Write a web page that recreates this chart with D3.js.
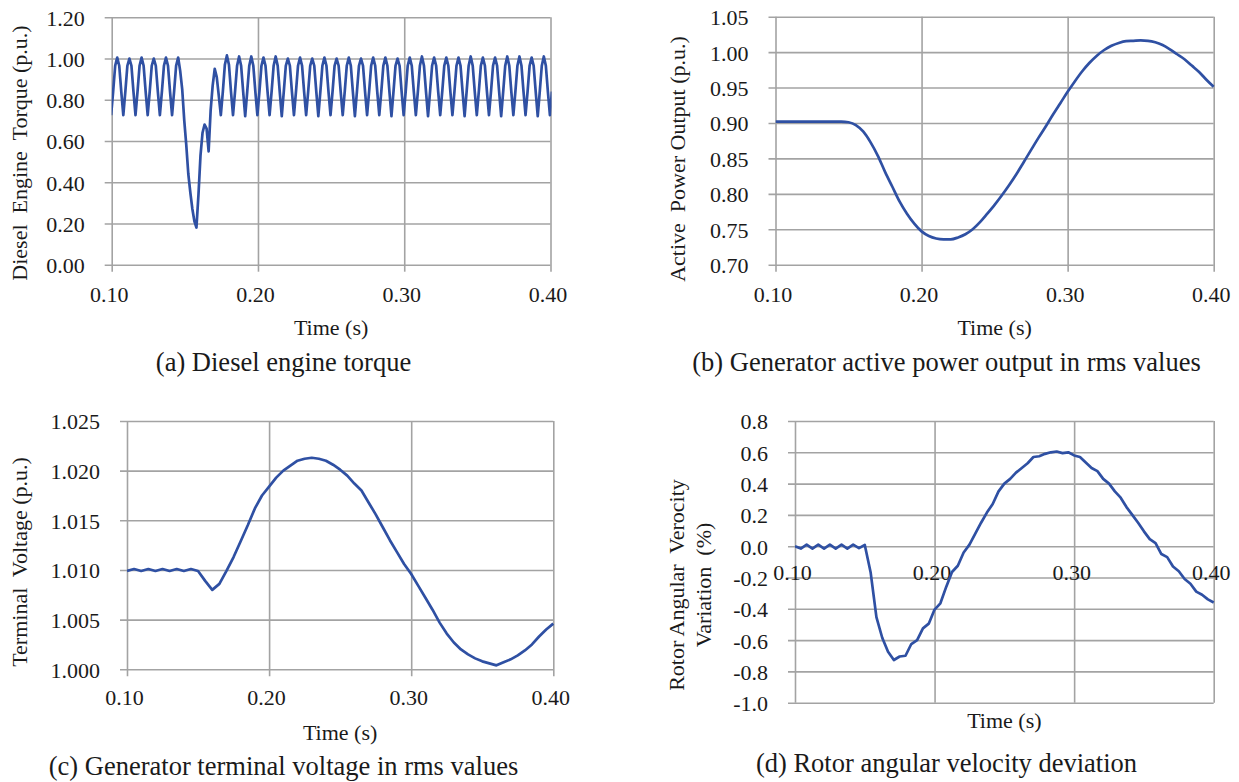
<!DOCTYPE html>
<html>
<head>
<meta charset="utf-8">
<script src="https://cdn.jsdelivr.net/npm/d3@7"></script>
<style>
  body { margin: 0; background: #fff; }
  svg text { font-family: "Liberation Serif", "Times New Roman", serif; fill: #1a1a1a; white-space: pre; }
</style>
</head>
<body>
<svg id="chart" width="1239" height="782"></svg>
<script>
// ---- data ----
const timeTicks = [0.10, 0.20, 0.30, 0.40];

// (a) diesel engine torque, sampled every 1/720 s from 0.0996 s
const torqueStart = 0.0996;
const torqueStep = 1 / 720;
const torqueValues = [
  0.725, 0.84, 0.965, 1.005, 0.965, 0.84,
  0.725, 0.84, 0.965, 1.000, 0.965, 0.84,
  0.725, 0.84, 0.965, 1.005, 0.965, 0.84,
  0.725, 0.84, 0.965, 1.000, 0.965, 0.84,
  0.725, 0.84, 0.965, 1.005, 0.965, 0.84,
  0.725, 0.84, 0.965, 1.005, 0.940, 0.85,
  0.700, 0.58, 0.440, 0.350, 0.270, 0.21,
  0.180, 0.34, 0.530, 0.640, 0.680, 0.66,
  0.550, 0.75, 0.870, 0.950, 0.910, 0.82,
  0.725, 0.84, 0.970, 1.015, 0.970, 0.84,
  0.725, 0.84, 0.965, 1.010, 0.965, 0.84,
  0.720, 0.84, 0.965, 1.010, 0.965, 0.84,
  0.725, 0.84, 0.965, 1.005, 0.965, 0.84,
  0.725, 0.84, 0.965, 1.010, 0.965, 0.84,
  0.720, 0.84, 0.965, 1.000, 0.965, 0.84,
  0.725, 0.84, 0.965, 1.005, 0.965, 0.84,
  0.725, 0.84, 0.965, 1.000, 0.965, 0.84,
  0.720, 0.84, 0.965, 1.005, 0.965, 0.84,
  0.725, 0.84, 0.965, 1.000, 0.965, 0.84,
  0.725, 0.84, 0.965, 1.005, 0.965, 0.84,
  0.720, 0.84, 0.965, 1.000, 0.965, 0.84,
  0.725, 0.84, 0.965, 1.005, 0.965, 0.84,
  0.725, 0.84, 0.965, 1.005, 0.965, 0.84,
  0.720, 0.84, 0.965, 1.000, 0.965, 0.84,
  0.725, 0.84, 0.965, 1.005, 0.965, 0.84,
  0.725, 0.84, 0.965, 1.010, 0.965, 0.84,
  0.720, 0.84, 0.965, 1.005, 0.965, 0.84,
  0.725, 0.84, 0.965, 1.005, 0.965, 0.84,
  0.725, 0.84, 0.965, 1.005, 0.965, 0.84,
  0.720, 0.84, 0.965, 1.010, 0.965, 0.84,
  0.725, 0.84, 0.965, 1.005, 0.965, 0.84,
  0.725, 0.84, 0.965, 1.005, 0.965, 0.84,
  0.720, 0.84, 0.965, 1.010, 0.965, 0.84,
  0.725, 0.84, 0.965, 1.010, 0.965, 0.84,
  0.725, 0.84, 0.965, 1.005, 0.965, 0.84,
  0.720, 0.84, 0.965, 1.010, 0.965, 0.84,
  0.725, 0.84
];
const torqueTicks = [0, 0.2, 0.4, 0.6, 0.8, 1.0, 1.2];

// (b) active power output, every 5 ms from 0.10 s
const powerStart = 0.10;
const powerStep = 0.005;
const powerValues = [
  0.902, 0.902, 0.902, 0.902, 0.902, 0.902, 0.902, 0.902, 0.902, 0.902,
  0.901, 0.897, 0.888, 0.873, 0.854, 0.831, 0.810, 0.789, 0.772, 0.758,
  0.747, 0.7405, 0.737, 0.7358, 0.7358, 0.7385, 0.743, 0.750, 0.760, 0.772,
  0.7845, 0.798, 0.8125, 0.828, 0.845, 0.862, 0.879, 0.895, 0.912, 0.928,
  0.944, 0.959, 0.973, 0.985, 0.995, 1.003, 1.009, 1.013, 1.0155, 1.016,
  1.0165, 1.016, 1.014, 1.010, 1.004, 0.997, 0.990, 0.981, 0.972, 0.961,
  0.951
];
const powerTicks = [0.70, 0.75, 0.80, 0.85, 0.90, 0.95, 1.00, 1.05];

// (c) terminal voltage, every 5 ms from 0.10 s
const voltStart = 0.10;
const voltStep = 0.005;
const voltValues = [
  1.0099, 1.0101, 1.0099, 1.0101, 1.0099, 1.0101, 1.0099, 1.0101, 1.0099, 1.0101,
  1.0099, 1.0089, 1.0080, 1.0086, 1.0099, 1.0113, 1.0129, 1.0145, 1.0162, 1.0175,
  1.0184, 1.0193, 1.0200, 1.0205, 1.0210, 1.0212, 1.0213, 1.0212, 1.0210, 1.0206,
  1.0201, 1.0195, 1.0187, 1.0180, 1.0168, 1.0156, 1.0143, 1.0130, 1.0118, 1.0106,
  1.0096, 1.0084, 1.0072, 1.0060, 1.0047, 1.0036, 1.0027, 1.0020, 1.0015, 1.0011,
  1.0008, 1.0006, 1.0004, 1.0007, 1.0010, 1.0014, 1.0019, 1.0025, 1.0033, 1.0040,
  1.0046
];
const voltTicks = [1.000, 1.005, 1.010, 1.015, 1.020, 1.025];

// (d) rotor angular velocity deviation (%), every 1/240 s from 0.10 s
const speedStart = 0.10;
const speedStep = 1 / 240;
const speedValues = [
  0.000, -0.015, 0.010, -0.015, 0.010, -0.015, 0.010, -0.015, 0.010, -0.015,
  0.010, -0.012, 0.008, -0.166, -0.453, -0.585, -0.675, -0.727, -0.705, -0.700,
  -0.625, -0.600, -0.525, -0.495, -0.405, -0.365, -0.260, -0.165, -0.125, -0.040,
  0.010, 0.080, 0.150, 0.215, 0.270, 0.350, 0.400, 0.430, 0.470, 0.500,
  0.530, 0.570, 0.575, 0.590, 0.600, 0.605, 0.595, 0.600, 0.580, 0.570,
  0.535, 0.500, 0.480, 0.430, 0.400, 0.350, 0.310, 0.250, 0.200, 0.150,
  0.095, 0.045, 0.020, -0.050, -0.070, -0.130, -0.160, -0.210, -0.240, -0.290,
  -0.310, -0.340, -0.360
];
const speedTicks = [-1.0, -0.8, -0.6, -0.4, -0.2, 0.0, 0.2, 0.4, 0.6, 0.8];

// ---- drawing ----
const svg = d3.select('#chart');
const gridColor = '#a3a3a3';
const lineColor = '#2f50a3';

function drawPanel(o) {
  const x = d3.scaleLinear().domain([0.10, 0.40]).range([o.left, o.right]);
  const y = d3.scaleLinear().domain(o.yDomain).range([o.bottom, o.top]);
  const w = o.right - o.left, h = o.bottom - o.top;
  const g = svg.append('g');

  // horizontal grid + y labels
  const ya = g.append('g')
    .attr('transform', `translate(${o.left},0)`)
    .call(d3.axisLeft(y).tickValues(o.yTicks).tickFormat(o.yFormat)
      .tickSize(-w).tickSizeOuter(0).tickPadding(27));
  ya.select('.domain').remove();
  ya.selectAll('line').attr('x1', -7).attr('stroke', gridColor).attr('stroke-width', 1.6);
  ya.selectAll('text').attr('font-size', 22).attr('dy', '0.36em');
  ya.attr('font-family', null).attr('font-size', null);

  // vertical grid
  const xg = g.append('g')
    .attr('transform', `translate(0,${o.bottom})`)
    .call(d3.axisBottom(x).tickValues(timeTicks).tickFormat('').tickSize(-h).tickSizeOuter(0));
  xg.select('.domain').remove();
  xg.selectAll('line').attr('y1', o.tickOut).attr('stroke', gridColor).attr('stroke-width', 1.6);

  // x labels
  const xl = g.append('g')
    .attr('transform', `translate(0,${o.labelY})`)
    .call(d3.axisBottom(x).tickValues(timeTicks).tickFormat(d3.format('.2f')).tickSize(0).tickPadding(0));
  xl.select('.domain').remove();
  xl.attr('font-family', null).attr('font-size', null);
  xl.selectAll('text').attr('font-size', 22).attr('dy', 0).attr('dx', -3);

  // series
  const clipId = 'clip' + o.id;
  svg.append('clipPath').attr('id', clipId).append('rect')
    .attr('x', o.left).attr('y', o.top - 4).attr('width', w + 1).attr('height', h + 8);
  const line = d3.line()
    .x((d, i) => x(o.start + i * o.step))
    .y(d => y(d))
    .curve(o.curve || d3.curveLinear);
  g.append('path')
    .datum(o.values)
    .attr('clip-path', `url(#${clipId})`)
    .attr('fill', 'none')
    .attr('stroke', lineColor)
    .attr('stroke-width', 2.7)
    .attr('stroke-linejoin', 'round')
    .attr('d', line);

  // y title
  o.yTitle.forEach((t, k) => {
    g.append('text')
      .attr('transform', `translate(${o.yTitleX[k]},${o.yTitleY}) rotate(-90)`)
      .attr('text-anchor', 'middle')
      .attr('font-size', 22)
      .text(t);
  });
  // x title
  g.append('text')
    .attr('x', (o.left + o.right) / 2).attr('y', o.xTitleY)
    .attr('text-anchor', 'middle').attr('font-size', 22)
    .text('Time (s)');
  // caption
  g.append('text')
    .attr('x', o.captionX).attr('y', o.captionY)
    .attr('text-anchor', 'middle').attr('font-size', 26.5)
    .text(o.caption);
}

const fmt = p => (d => d3.format(p)(d).replace('\u2212', '-'));

drawPanel({
  id: 'a', left: 111.7, right: 550.5, top: 17.3, bottom: 264.7,
  yDomain: [0, 1.2], yTicks: torqueTicks, yFormat: fmt('.2f'),
  tickOut: 7, labelY: 301.7,
  start: torqueStart, step: torqueStep, values: torqueValues,
  yTitle: ['Diesel  Engine  Torque (p.u.)'], yTitleX: [26.5], yTitleY: 153,
  xTitleY: 335, caption: '(a) Diesel engine torque', captionX: 283.5, captionY: 371
});

drawPanel({
  id: 'b', left: 775.5, right: 1213.7, top: 16.7, bottom: 264.7,
  yDomain: [0.70, 1.05], yTicks: powerTicks, yFormat: fmt('.2f'),
  tickOut: 7, labelY: 301.7,
  start: powerStart, step: powerStep, values: powerValues, curve: d3.curveMonotoneX,
  yTitle: ['Active  Power Output (p.u.)'], yTitleX: [685], yTitleY: 159,
  xTitleY: 335, caption: '(b) Generator active power output in rms values', captionX: 946.5, captionY: 371
});

drawPanel({
  id: 'c', left: 127, right: 553.3, top: 421, bottom: 669.3,
  yDomain: [1.000, 1.025], yTicks: voltTicks, yFormat: fmt('.3f'),
  tickOut: 7, labelY: 705,
  start: voltStart, step: voltStep, values: voltValues,
  yTitle: ['Terminal  Voltage (p.u.)'], yTitleX: [26.5], yTitleY: 562,
  xTitleY: 740, caption: '(c) Generator terminal voltage in rms values', captionX: 283.5, captionY: 775
});

drawPanel({
  id: 'd', left: 795, right: 1213.7, top: 421, bottom: 702.7,
  yDomain: [-1.0, 0.8], yTicks: speedTicks, yFormat: fmt('.1f'),
  tickOut: 0, labelY: 580,
  start: speedStart, step: speedStep, values: speedValues,
  yTitle: ['Rotor Angular  Verocity', 'Variation  (%)'], yTitleX: [684, 711], yTitleY: 585,
  xTitleY: 728, caption: '(d) Rotor angular velocity deviation', captionX: 946.5, captionY: 772
});
</script>
</body>
</html>
